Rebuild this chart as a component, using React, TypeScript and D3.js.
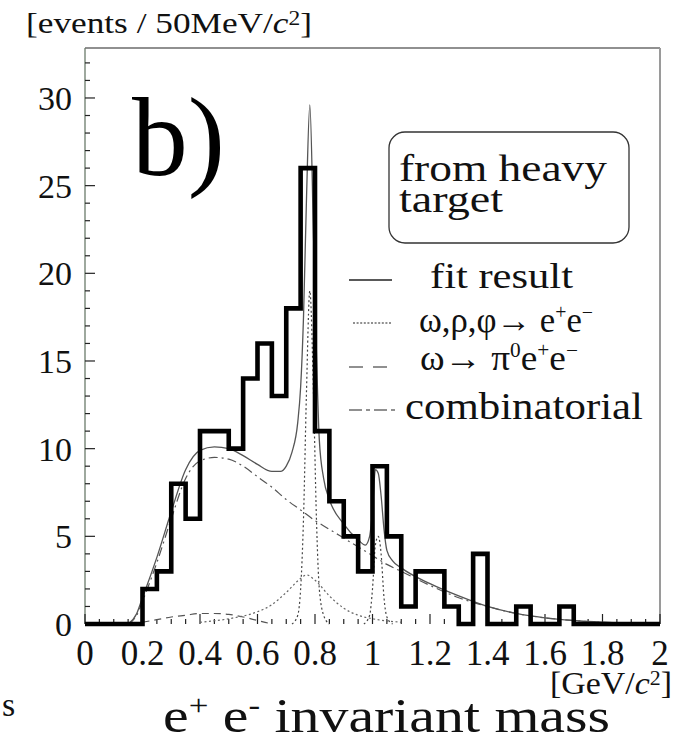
import React from "react";
import * as d3 from "d3";

// ---- data ----
const binWidth = 0.05;
const counts = [0, 0, 0, 0, 2, 3, 8, 6, 11, 11, 10, 14, 16, 13, 18, 26, 11, 7, 5, 3, 9, 5, 1, 3, 3, 1, 0, 4, 0, 0, 1, 0, 0, 1, 0, 0, 0, 0, 0, 0];

const yTicks = [0, 5, 10, 15, 20, 25, 30];
const xTicks = [0, 0.2, 0.4, 0.6, 0.8, 1, 1.2, 1.4, 1.6, 1.8, 2];

const fitX = [0.15, 0.18, 0.2, 0.25, 0.3, 0.35, 0.4, 0.45, 0.5, 0.55, 0.6, 0.65, 0.68, 0.7, 0.72, 0.74, 0.75, 0.76, 0.77, 0.782, 0.795, 0.805, 0.815, 0.83, 0.85, 0.9, 0.95, 0.975, 0.99, 1.0, 1.01, 1.02, 1.03, 1.04, 1.05, 1.07, 1.1, 1.2, 1.3, 1.4, 1.5, 1.6, 1.7, 1.8, 2.0];
const fitY = [0, 0.6, 1.5, 3.8, 6.4, 8.8, 9.9, 10.1, 10.0, 9.6, 9.1, 8.7, 8.7, 9.0, 9.8, 11.5, 13.5, 17.5, 24, 29.6, 22, 15.5, 10.5, 8.3, 7.1, 5.7, 4.8, 4.5, 5.0, 6.5, 8.8, 8.6, 7.3, 5.4, 4.2, 3.6, 3.2, 2.3, 1.6, 1.0, 0.6, 0.35, 0.2, 0.1, 0];

const combX = [0.15, 0.18, 0.2, 0.25, 0.3, 0.35, 0.4, 0.45, 0.5, 0.55, 0.6, 0.65, 0.7, 0.75, 0.8, 0.85, 0.9, 0.95, 1.0, 1.05, 1.1, 1.2, 1.3, 1.4, 1.5, 1.6, 1.7, 1.8, 1.9, 2.0];
const combY = [0, 0.5, 1.3, 3.5, 6.0, 8.3, 9.3, 9.5, 9.4, 9.0, 8.4, 7.8, 7.1, 6.5, 5.9, 5.4, 4.9, 4.4, 3.9, 3.4, 3.0, 2.2, 1.5, 1.0, 0.6, 0.35, 0.2, 0.1, 0.05, 0];

const dalitzX = [0.2, 0.25, 0.3, 0.35, 0.4, 0.45, 0.5, 0.55, 0.6, 0.65];
const dalitzY = [0.1, 0.25, 0.4, 0.5, 0.6, 0.6, 0.55, 0.4, 0.2, 0];

const rhoX = [0.4, 0.5, 0.6, 0.65, 0.7, 0.75, 0.77, 0.8, 0.85, 0.9, 0.95, 1.0, 1.1];
const rhoY = [0.1, 0.3, 0.7, 1.1, 1.8, 2.6, 2.8, 2.5, 1.6, 0.9, 0.5, 0.3, 0.1];

const omegaX = [0.72, 0.74, 0.75, 0.76, 0.77, 0.782, 0.795, 0.805, 0.815, 0.83, 0.85];
const omegaY = [0, 0.5, 2, 6, 13, 19, 13, 6, 2, 0.5, 0];

const phiX = [0.97, 0.99, 1.0, 1.01, 1.02, 1.03, 1.04, 1.05, 1.07];
const phiY = [0, 0.5, 2, 4.5, 5, 4.0, 1.5, 0.4, 0];

const FONT = "'Liberation Serif', 'Times New Roman', Times, serif";
const T = { fontFamily: FONT };

export default function App() {
  const x = d3.scaleLinear().domain([0, 2]).range([85, 660]);
  const y = d3.scaleLinear().domain([0, 32.85]).range([624, 48]);

  const histPts: [number, number][] = counts.map((c, i) => [i * binWidth, c]);
  histPts.push([2, counts[counts.length - 1]]);
  const histPath = d3
    .line<[number, number]>()
    .x((d) => x(d[0]))
    .y((d) => y(d[1]))
    .curve(d3.curveStepAfter)(histPts) as string;

  const curve = (xs: number[], ys: number[]) =>
    d3
      .line<number>()
      .x((_, i) => x(xs[i]))
      .y((d) => y(d))
      .curve(d3.curveMonotoneX)(ys) as string;

  const minorY = d3.range(0, 33, 1);
  const minorX = d3.range(0, 2.001, 0.05);

  return (
    <svg width={683} height={744} style={{ position: "absolute", left: 0, top: 0, background: "#fff", fontFamily: FONT }}>
      <rect x={0} y={0} width={683} height={744} fill="#fff" />
      {/* frame */}
      <line x1={85} y1={48} x2={660} y2={48} stroke="#222" strokeWidth={1.2} />
      <line x1={85} y1={48} x2={85} y2={624} stroke="#6a7a6a" strokeWidth={1.3} />
      <line x1={660} y1={48} x2={660} y2={624} stroke="#9a9a9a" strokeWidth={2} />
      {/* y ticks */}
      {minorY.map((v) => (
        <line key={"ym" + v} x1={85} x2={v % 5 === 0 ? 95 : 90} y1={y(v)} y2={y(v)} stroke="#222" strokeWidth={1.2} />
      ))}
      {yTicks.map((v) => (
        <text key={"yl" + v} x={72} y={y(v) + 12} fontSize={34} textAnchor="end" fill="#111" style={T}>
          {v}
        </text>
      ))}
      {/* x ticks */}
      {minorX.map((v, i) => (
        <line key={"xm" + i} x1={x(v)} x2={x(v)} y1={624} y2={i % 4 === 0 ? 614 : 619} stroke="#222" strokeWidth={1.2} />
      ))}
      {xTicks.map((v) => (
        <text key={"xl" + v} x={x(v)} y={665} fontSize={35} textAnchor="middle" fill="#111" style={T}>
          {v}
        </text>
      ))}

      {/* fit components */}
      <path d={curve(combX, combY)} fill="none" stroke="#555" strokeWidth={1.2} strokeDasharray="9,4,2,4" />
      <path d={curve(dalitzX, dalitzY)} fill="none" stroke="#555" strokeWidth={1.2} strokeDasharray="7,5" />
      <path d={curve(rhoX, rhoY)} fill="none" stroke="#666" strokeWidth={1.2} strokeDasharray="2,2.5" />
      <path d={curve(omegaX, omegaY)} fill="none" stroke="#444" strokeWidth={1.2} strokeDasharray="2,2.5" />
      <path d={curve(phiX, phiY)} fill="none" stroke="#444" strokeWidth={1.2} strokeDasharray="2,2.5" />
      <path d={curve(fitX, fitY)} fill="none" stroke="#555" strokeWidth={1.3} />

      {/* histogram */}
      <path d={histPath} fill="none" stroke="#000" strokeWidth={4.6} strokeLinejoin="miter" strokeLinecap="butt" />

      {/* label b) */}
      <text x={132} y={175} fontSize={112} textLength={93} lengthAdjust="spacingAndGlyphs" fill="#000" style={T}>
        b)
      </text>

      {/* box */}
      <rect x={389} y={132} width={240} height={111} rx={16} ry={16} fill="none" stroke="#333" strokeWidth={1.3} />
      <text x={399} y={181} fontSize={37} textLength={208} lengthAdjust="spacingAndGlyphs" fill="#111" style={T}>
        from heavy
      </text>
      <text x={399} y={212} fontSize={37} textLength={104} lengthAdjust="spacingAndGlyphs" fill="#111" style={T}>
        target
      </text>

      {/* legend */}
      <line x1={349} x2={392} y1={280} y2={280} stroke="#222" strokeWidth={1.3} />
      <text x={430} y={288} fontSize={35} textLength={143} lengthAdjust="spacingAndGlyphs" fill="#111" style={T}>
        fit result
      </text>
      <line x1={353} x2={392} y1={323} y2={323} stroke="#222" strokeWidth={1.2} strokeDasharray="2,1.6" />
      <text x={419} y={332} fontSize={35} textLength={174} lengthAdjust="spacingAndGlyphs" fill="#111" style={T}>
        ω,ρ,φ→ e
        <tspan dy={-13} fontSize={20}>+</tspan>
        <tspan dy={13}>e</tspan>
        <tspan dy={-13} fontSize={20}>−</tspan>
      </text>
      <line x1={349} x2={392} y1={367} y2={367} stroke="#222" strokeWidth={1.2} strokeDasharray="14,10" />
      <text x={420} y={370} fontSize={35} textLength={158} lengthAdjust="spacingAndGlyphs" fill="#111" style={T}>
        ω→ π
        <tspan dy={-13} fontSize={20}>0</tspan>
        <tspan dy={13}>e</tspan>
        <tspan dy={-13} fontSize={20}>+</tspan>
        <tspan dy={13}>e</tspan>
        <tspan dy={-13} fontSize={20}>−</tspan>
      </text>
      <line x1={349} x2={398} y1={410} y2={410} stroke="#222" strokeWidth={1.2} strokeDasharray="13,4,4,4" />
      <text x={405} y={419} fontSize={37} textLength={238} lengthAdjust="spacingAndGlyphs" fill="#111" style={T}>
        combinatorial
      </text>

      {/* axis titles */}
      <text x={26} y={33} fontSize={30} textLength={286} lengthAdjust="spacingAndGlyphs" fill="#111" style={T}>
        [events / 50MeV/<tspan fontStyle="italic">c</tspan>
        <tspan dy={-8} fontSize={20}>2</tspan>
        <tspan dy={8}>]</tspan>
      </text>
      <text x={550} y={694} fontSize={31} textLength={122} lengthAdjust="spacingAndGlyphs" fill="#111" style={T}>
        [GeV/<tspan fontStyle="italic">c</tspan>
        <tspan dy={-9} fontSize={20}>2</tspan>
        <tspan dy={9}>]</tspan>
      </text>
      <text x={163} y={732} fontSize={48} textLength={447} lengthAdjust="spacingAndGlyphs" fill="#111" style={T}>
        e<tspan dy={-17} fontSize={29}>+</tspan>
        <tspan dy={17}> e</tspan>
        <tspan dy={-17} fontSize={29}>-</tspan>
        <tspan dy={17}>  invariant mass</tspan>
      </text>
      <text x={2} y={716} fontSize={34} fill="#111" style={T}>
        s
      </text>
    </svg>
  );
}
